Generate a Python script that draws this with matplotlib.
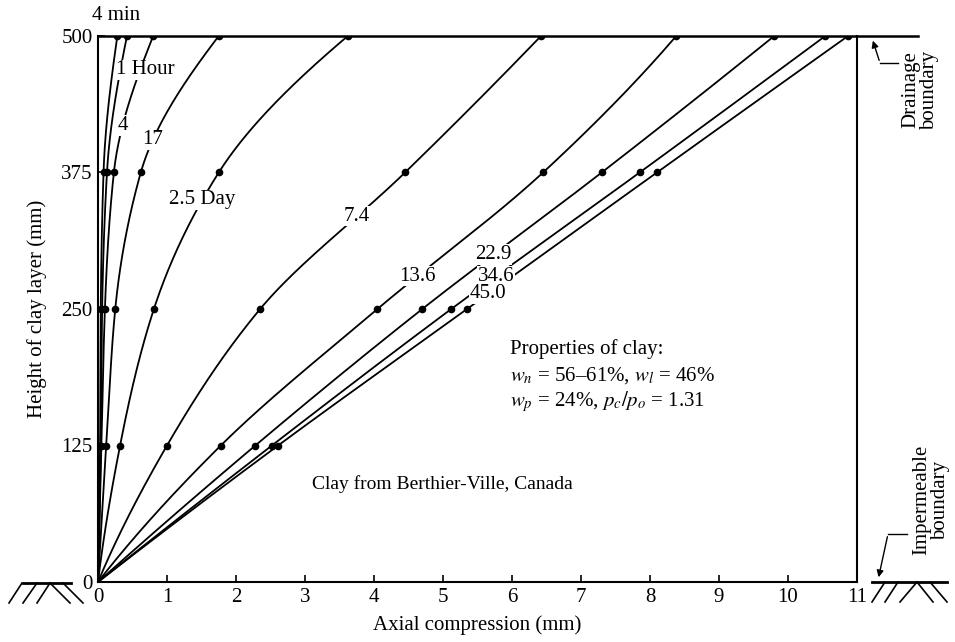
import numpy as np
import matplotlib
matplotlib.use("Agg")
import matplotlib.pyplot as plt
from matplotlib.lines import Line2D
from matplotlib.patches import FancyArrowPatch

plt.rcParams['font.family'] = ['Liberation Serif', 'DejaVu Serif']
plt.rcParams['mathtext.fontset'] = 'stix'

# heights of the measuring points (mm)
heights = [0, 125, 250, 375, 500]

# axial compression (mm) at each height, one list per isochrone
t_4min = [0, 0.03, 0.04, 0.08, 0.28]
t_1hour = [0, 0.04, 0.06, 0.13, 0.42]
t_4hour = [0, 0.05, 0.10, 0.23, 0.80]
t_17hour = [0, 0.12, 0.25, 0.62, 1.75]
t_2_5day = [0, 0.32, 0.81, 1.75, 3.62]
t_7_4day = [0, 1.00, 2.35, 4.45, 6.42]
t_13_6day = [0, 1.78, 4.05, 6.45, 8.38]
t_22_9day = [0, 2.28, 4.70, 7.30, 9.80]
t_34_6day = [0, 2.52, 5.12, 7.85, 10.54]
t_45_0day = [0, 2.61, 5.35, 8.10, 10.87]

curves = [t_4min, t_1hour, t_4hour, t_17hour, t_2_5day,
          t_7_4day, t_13_6day, t_22_9day, t_34_6day, t_45_0day]
curve_labels = ["4 min", "1 Hour", "4", "17", "2.5 Day",
                "7.4", "13.6", "22.9", "34.6", "45.0"]
# height at which each label sits on its curve
label_heights = [519, 469, 418, 405, 350, 335, 280, 300, 280, 264]

x_ticks = list(range(0, 12))
y_ticks = [0, 125, 250, 375, 500]


def pchip(xk, yk, xs):
    xk = np.asarray(xk, float)
    yk = np.asarray(yk, float)
    h = np.diff(xk)
    d = np.diff(yk) / h
    m = np.zeros_like(yk)
    for i in range(1, len(xk) - 1):
        if d[i - 1] * d[i] > 0:
            w1 = 2 * h[i] + h[i - 1]
            w2 = h[i] + 2 * h[i - 1]
            m[i] = (w1 + w2) / (w1 / d[i - 1] + w2 / d[i])
    m[0] = ((2 * h[0] + h[1]) * d[0] - h[0] * d[1]) / (h[0] + h[1])
    if m[0] * d[0] <= 0:
        m[0] = 0
    m[-1] = ((2 * h[-1] + h[-2]) * d[-1] - h[-1] * d[-2]) / (h[-1] + h[-2])
    if m[-1] * d[-1] <= 0:
        m[-1] = 0
    idx = np.clip(np.searchsorted(xk, xs) - 1, 0, len(xk) - 2)
    t = (xs - xk[idx]) / h[idx]
    h00 = 2 * t**3 - 3 * t**2 + 1
    h10 = t**3 - 2 * t**2 + t
    h01 = -2 * t**3 + 3 * t**2
    h11 = t**3 - t**2
    return (h00 * yk[idx] + h10 * h[idx] * m[idx]
            + h01 * yk[idx + 1] + h11 * h[idx] * m[idx + 1])


W, H = 955, 642
fig = plt.figure(figsize=(W / 100, H / 100), dpi=100)
ax = fig.add_axes([98 / W, 60 / H, 759 / W, 546 / H])

zs = np.linspace(0, 500, 300)
for vals, lab, lh in zip(curves, curve_labels, label_heights):
    xs = pchip(heights, vals, zs)
    ax.plot(xs, zs, color='black', lw=1.3, zorder=2)
    ax.plot(vals[1:], heights[1:], 'o', color='black', ms=4.5, zorder=4)
    lx = np.interp(lh, zs, xs)
    if lab == "4 min":
        ax.text(0.26, lh, lab, fontsize=15, ha='center', va='center',
                clip_on=False)
    elif lab == "1 Hour":
        ax.text(lx - 0.06, lh, lab, fontsize=15, ha='left', va='center',
                bbox=dict(fc='white', ec='none', pad=0.5), zorder=3)
    else:
        ax.text(lx, lh, lab, fontsize=15, ha='center', va='center',
                bbox=dict(fc='white', ec='none', pad=0.5), zorder=3)

ax.set_xlim(0, 11)
ax.set_ylim(0, 500)
ax.set_xticks(x_ticks)
ax.set_yticks(y_ticks)
ax.tick_params(direction='in', length=5, width=1.2, labelsize=15, pad=4)
ax.spines['top'].set_visible(False)
for s in ['left', 'bottom', 'right']:
    ax.spines[s].set_linewidth(1.5)

# drainage boundary line running past the right edge
ax.plot([0, 11.88], [500, 500], color='black', lw=1.8, clip_on=False,
        zorder=2)

ax.set_xlabel("Axial compression (mm)", fontsize=15, labelpad=6)
ax.set_ylabel("Height of clay layer (mm)", fontsize=15, labelpad=10)

ax.text(5.97, 213, "Properties of clay:", fontsize=15, va='center')
ax.text(5.97, 189, r"$w_n$ = 56–61%, $w_l$ = 46%", fontsize=15,
        va='center')
ax.text(5.97, 165, r"$w_p$ = 24%, $p_c/p_o$ = 1.31", fontsize=15,
        va='center')
ax.text(3.1, 90, "Clay from Berthier-Ville, Canada", fontsize=14,
        va='center')


def fpx(x, y):
    return x / W, 1 - y / H


def seg(x1, y1, x2, y2, lw=1.2):
    a = fpx(x1, y1)
    b = fpx(x2, y2)
    fig.add_artist(Line2D([a[0], b[0]], [a[1], b[1]], color='black',
                          lw=lw, transform=fig.transFigure))


# ground symbols
seg(23, 583, 71, 583, lw=2)
for xt, xb in [(22, 9), (37, 23), (50, 37)]:
    seg(xt, 583, xb, 603)
for xt, xb in [(50, 70), (63, 83)]:
    seg(xt, 583, xb, 603)

seg(872, 582, 947, 582, lw=2)
for xt, xb in [(885, 872), (898, 885), (917, 900)]:
    seg(xt, 582, xb, 602)
for xt, xb in [(917, 933), (930, 947)]:
    seg(xt, 582, xb, 602)

# boundary notes with arrows
seg(898, 63, 880, 63, lw=1)
fig.add_artist(FancyArrowPatch(
    fpx(880, 63), fpx(872, 38), transform=fig.transFigure,
    arrowstyle='-|>', mutation_scale=10, color='black', lw=1))
fig.text(920 / W, 1 - 90 / H, "Drainage\nboundary", rotation=90,
         fontsize=15, ha='center', va='center', linespacing=1.0)

seg(907, 534, 888, 534, lw=1)
fig.add_artist(FancyArrowPatch(
    fpx(888, 534), fpx(878, 580), transform=fig.transFigure,
    arrowstyle='-|>', mutation_scale=10, color='black', lw=1))
fig.text(931 / W, 1 - 500 / H, "Impermeable\nboundary", rotation=90,
         fontsize=15, ha='center', va='center', linespacing=1.0)

fig.savefig("out.png", dpi=100)
